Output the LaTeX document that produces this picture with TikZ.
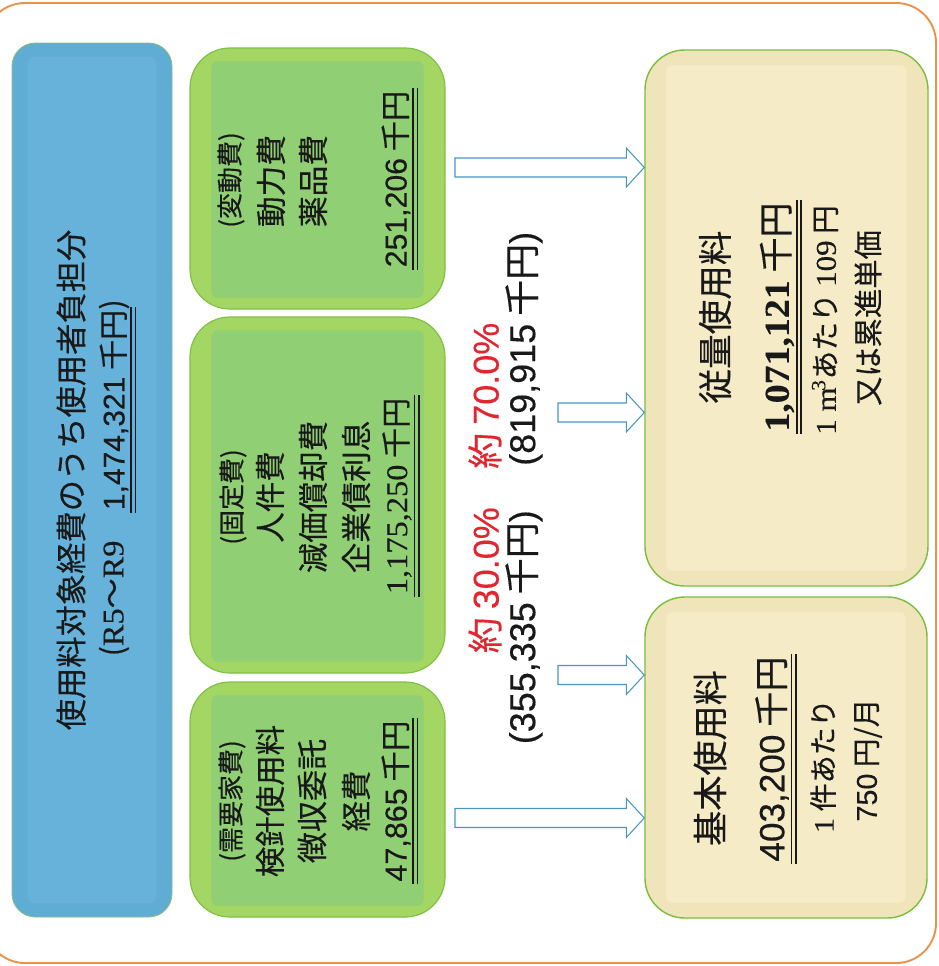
\documentclass[tikz,border=0pt]{standalone}
\usepackage{fontspec}
\setmainfont[FakeBold=0.35]{Noto Sans CJK JP}
\newfontfamily\lsans[FakeBold=0.3]{Liberation Sans}
\newfontfamily\lserif[FakeStretch=1.08,FakeBold=0.3]{Liberation Serif}
\usetikzlibrary{fit,calc}
\definecolor{frameor}{RGB}{234,146,72}
\definecolor{bluef}{RGB}{95,172,213}
\definecolor{bluei}{RGB}{102,178,218}
\definecolor{blued}{RGB}{140,190,130}
\definecolor{greenf}{RGB}{164,214,100}
\definecolor{greeni}{RGB}{144,207,116}
\definecolor{greend}{RGB}{128,192,68}
\definecolor{creamf}{RGB}{240,229,186}
\definecolor{creami}{RGB}{245,236,199}
\definecolor{creamd}{RGB}{122,190,62}
\definecolor{arrowc}{RGB}{72,150,195}
\definecolor{redt}{RGB}{226,38,48}
\definecolor{ink}{RGB}{25,25,25}
\newcommand\fs[1]{\fontsize{#1}{#1}\selectfont}
\newcommand\harr[2]{\draw[harrow] ($(#1)+(0,-9.5)$) -- ($(#2)+(-18,-9.5)$) -- ($(#2)+(-18,-19.5)$) -- (#2) -- ($(#2)+(-18,19.5)$) -- ($(#2)+(-18,9.5)$) -- ($(#1)+(0,9.5)$) -- cycle;}
\newcommand\dul[1]{%
  \draw[ulst] ([xshift=2pt,yshift=-2pt]#1.south west) -- ([xshift=2pt,yshift=2pt]#1.south east);
  \draw[ulst] ([xshift=5.8pt,yshift=-2pt]#1.south west) -- ([xshift=5.8pt,yshift=2pt]#1.south east);}
\begin{document}
\begin{tikzpicture}[x=0.03cm,y=-0.03cm,
  tx/.style={rotate=90,inner sep=0pt,text=ink},
  bluebox/.style={fit={#1},inner sep=0pt,rounded corners=20pt,fill=bluef,draw=blued,line width=0.8pt},
  greenbox/.style={fit={#1},inner sep=0pt,rounded corners=34pt,fill=greenf,draw=greend,line width=1pt},
  creambox/.style={fit={#1},inner sep=0pt,rounded corners=34pt,fill=creamf,draw=creamd,line width=1.2pt},
  harrow/.style={draw=arrowc,fill=white,line width=0.9pt,line join=miter},
  ulst/.style={draw=ink,line width=1.3pt}]
\useasboundingbox (0,0) rectangle (939,966);
\fill[white] (0,0) rectangle (939,966);
\begin{scope}
  \clip (0,0) rectangle (939,966);
  \draw[frameor,line width=1.6pt,rounded corners=34pt] (-15,3) rectangle (936,963);
\end{scope}
% boxes
\node[bluebox={(12,43) (172,917)}] (blue) {};
\node[greenbox={(190,48) (445,309)}] (g1) {};
\node[greenbox={(190,317) (445,673)}] (g2) {};
\node[greenbox={(190,682) (445,917)}] (g3) {};
\node[creambox={(645,50) (928,586)}] (r1) {};
\node[creambox={(645,597) (927,918)}] (r2) {};
\fill[bluei,rounded corners=6pt] ($(blue.north west)+(16,14)$) rectangle ($(blue.south east)+(-16,-14)$);
\foreach \n in {g1,g2,g3}
  \fill[greeni,rounded corners=5pt] ($(\n.north west)+(22,14)$) rectangle ($(\n.south east)+(-22,-12)$);
\foreach \n in {r1,r2}
  \fill[creami,rounded corners=5pt] ($(\n.north west)+(22,16)$) rectangle ($(\n.south east)+(-22,-16)$);
% blue texts
\node[tx,font=\fs{26.7pt}] (b1) at (71,480) {使用料対象経費のうち使用者負担分};
\node[tx,font=\fs{25.6pt}] (b3) at (114,410) {{\lsans 1,474,321} 千円};
\node[tx,font=\fs{25.6pt},anchor=east] (b2) at (b3.west) {({\lserif R5}～{\lserif R9}　};
\node[tx,font=\fs{25.6pt},anchor=west] (b4) at (b3.east) {)};
\dul{b3}
% green top
\node[tx,font=\fs{22.2pt}] (g1a) at (231,180) {(変動費)};
\node[tx,font=\fs{26.2pt}] (g1b) at (271,181) {動力費};
\node[tx,font=\fs{26.2pt}] (g1c) at (313,181) {薬品費};
\node[tx,font=\fs{25.8pt}] (g1d) at (396,179) {{\lsans 251,206} 千円};
\dul{g1d}
% green middle
\node[tx,font=\fs{22.2pt}] (g2a) at (233,497) {(固定費)};
\node[tx,font=\fs{26pt}] (g2b) at (270,497) {人件費};
\node[tx,font=\fs{26pt}] (g2c) at (313,497) {減価償却費};
\node[tx,font=\fs{26pt}] (g2d) at (356,497) {企業債利息};
\node[tx,font=\fs{25.6pt}] (g2e) at (397,496) {{\lserif 1,175,250} 千円};
\dul{g2e}
% green bottom
\node[tx,font=\fs{22.2pt}] (g3a) at (232,801) {(需要家費)};
\node[tx,font=\fs{26pt}] (g3b) at (270,801) {検針使用料};
\node[tx,font=\fs{26.5pt}] (g3c) at (312,801) {徴収委託};
\node[tx,font=\fs{26pt}] (g3d) at (356,801) {経費};
\node[tx,font=\fs{26pt}] (g3e) at (396,801) {{\lsans 47,865} 千円};
\dul{g3e}
% middle labels
\node[tx,font=\fs{30.7pt},text=redt,anchor=west] (p70) at (485,469) {約 {\lsans 70.0\%}};
\node[tx,font=\fs{30.7pt},anchor=west] (v70) at (524,466) {{\lsans (819,915} 千円{\lsans )}};
\node[tx,font=\fs{30.7pt},text=redt,anchor=east] (p30) at (485,507) {約 {\lsans 30.0\%}};
\node[tx,font=\fs{30.7pt},anchor=east] (v30) at (524,510) {{\lsans (355,335} 千円{\lsans )}};
% right top
\node[tx,font=\fs{29.5pt}] (r1a) at (715,317) {従量使用料};
\node[tx,font=\fs{29.9pt}] (r1b) at (777,317) {{\lserif\bfseries 1,071,121} 千円};
\dul{r1b}
\node[tx,font=\fs{24.5pt}] (r1c) at (825,320) {{\lserif 1 m\kern-0.12em\textsuperscript{3}}あたり {\lserif 109} 円};
\node[tx,font=\fs{25pt}] (r1d) at (868,318) {又は累進単価};
% right bottom
\node[tx,font=\fs{30pt}] (r2a) at (710,758) {基本使用料};
\node[tx,font=\fs{30pt}] (r2b) at (772,759) {{\lsans 403,200} 千円};
\dul{r2b}
\node[tx,font=\fs{24pt}] (r2c) at (823,766) {{\lserif 1} 件あたり};
\node[tx,font=\fs{24.5pt}] (r2d) at (868,760) {{\lsans 750} 円/月};
% arrows
\coordinate (a1) at (455,167.5);
\coordinate (a2) at (558,412.5);
\coordinate (a3) at (558,675);
\coordinate (a4) at (455,818);
\coordinate (t1) at (r1.west |- a1);
\coordinate (t2) at (r1.west |- a2);
\coordinate (t3) at (r2.west |- a3);
\coordinate (t4) at (r2.west |- a4);
\harr{a1}{t1}
\harr{a2}{t2}
\harr{a3}{t3}
\harr{a4}{t4}
\end{tikzpicture}
\end{document}
